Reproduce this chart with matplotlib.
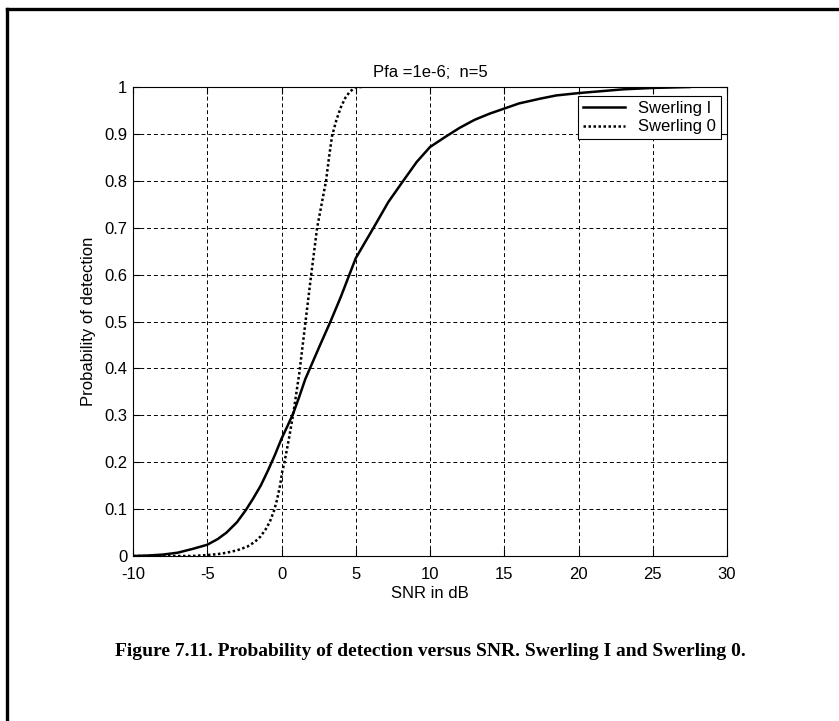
import numpy as np
from matplotlib import pyplot as plt

# Swerling I detection curve (Pfa = 1e-6, n = 5 pulses)
snr_sw1 = [-10, -9, -8, -7, -6, -5, -4.3, -3.7, -3, -2.4, -1.9, -1.4, -0.9, -0.45,
           0, 0.4, 0.8, 1.2, 1.6, 2.6, 3.3, 4, 5, 6.2, 7.2, 8.2, 9.1, 10, 11, 12,
           13, 14, 15, 16, 17.4, 18.5, 20, 21.5, 23, 25, 27.5]
pd_sw1 = [0.0, 0.001, 0.003, 0.007, 0.015, 0.024, 0.036, 0.05, 0.072, 0.098, 0.123,
          0.15, 0.183, 0.215, 0.25, 0.277, 0.305, 0.34, 0.377, 0.45, 0.5, 0.553,
          0.635, 0.70, 0.755, 0.80, 0.84, 0.872, 0.893, 0.913, 0.93, 0.943, 0.954,
          0.965, 0.975, 0.982, 0.987, 0.991, 0.995, 0.998, 1.0]

# Swerling 0 (non-fluctuating target)
snr_sw0 = [-10, -6, -5, -4.3, -3.7, -3, -2.3, -1.8, -1.4, -1.0, -0.75, -0.5, -0.3,
           -0.1, 0.05, 0.2, 0.5, 0.8, 1.2, 1.6, 2.0, 2.4, 2.7, 3.0, 3.2, 3.4, 3.7,
           4.0, 4.3, 4.6, 5.0, 5.5]
pd_sw0 = [0.0, 0.0, 0.002, 0.004, 0.007, 0.012, 0.02, 0.03, 0.042, 0.06, 0.076,
          0.097, 0.12, 0.15, 0.18, 0.2, 0.25, 0.305, 0.39, 0.495, 0.60, 0.70, 0.75,
          0.80, 0.85, 0.895, 0.93, 0.957, 0.977, 0.99, 1.0, 1.0]

xticks = np.arange(-10, 31, 5)
yticks = np.round(np.arange(0, 1.01, 0.1), 1)
ytick_labels = ['0'] + ['%.1f' % v for v in yticks[1:-1]] + ['1']

plt.rcParams['font.family'] = 'Liberation Sans'

fig = plt.figure(figsize=(8.39, 7.21), dpi=100)
ax = fig.add_axes([133/839, 1-556/721, (727-133)/839, (556-87)/721])

ax.plot(snr_sw1, pd_sw1, color='black', lw=1.8, label='Swerling I')
ax.plot(snr_sw0, pd_sw0, color='black', lw=1.8, linestyle=(0, (1, 1)), label='Swerling 0')

ax.set_xlim(-10, 30)
ax.set_ylim(0, 1)
ax.set_xticks(xticks)
ax.set_xticklabels([str(v) for v in xticks])
ax.set_yticks(yticks)
ax.set_yticklabels(ytick_labels)
ax.tick_params(direction='in', length=5, width=0.8, top=True, right=True,
               labelsize=12, colors='black')
ax.tick_params(axis='x', pad=8)
ax.tick_params(axis='y', pad=4)
ax.grid(True, color='black', lw=0.7, linestyle=(0, (4, 3)))
for s in ax.spines.values():
    s.set_linewidth(0.8)

ax.set_title('Pfa =1e-6;  n=5', fontsize=12, pad=7)
ax.set_xlabel('SNR in dB', fontsize=12, labelpad=3)
ax.set_ylabel('Probability of detection', fontsize=12, labelpad=6)

leg = ax.legend(loc='upper right', bbox_to_anchor=(721/839, 1-96/721),
                bbox_transform=fig.transFigure, borderaxespad=0, fontsize=12,
                fancybox=False, framealpha=1, edgecolor='black',
                handlelength=2.5, borderpad=0.3, labelspacing=0.2)
leg.get_frame().set_linewidth(0.8)

fig.text(430/839, 1-652/721,
         'Figure 7.11. Probability of detection versus SNR. Swerling I and Swerling 0.',
         ha='center', va='center', fontsize=14, fontweight='bold',
         family='Liberation Serif')

# page frame: left and top edges only
fig.add_artist(plt.Line2D([6.5/839, 6.5/839], [0, 1-8.5/721], color='black', lw=2.4,
                          transform=fig.transFigure, solid_capstyle='projecting'))
fig.add_artist(plt.Line2D([6.5/839, 1], [1-8.5/721, 1-8.5/721], color='black', lw=2.4,
                          transform=fig.transFigure, solid_capstyle='projecting'))

fig.savefig('out.png', dpi=100)
